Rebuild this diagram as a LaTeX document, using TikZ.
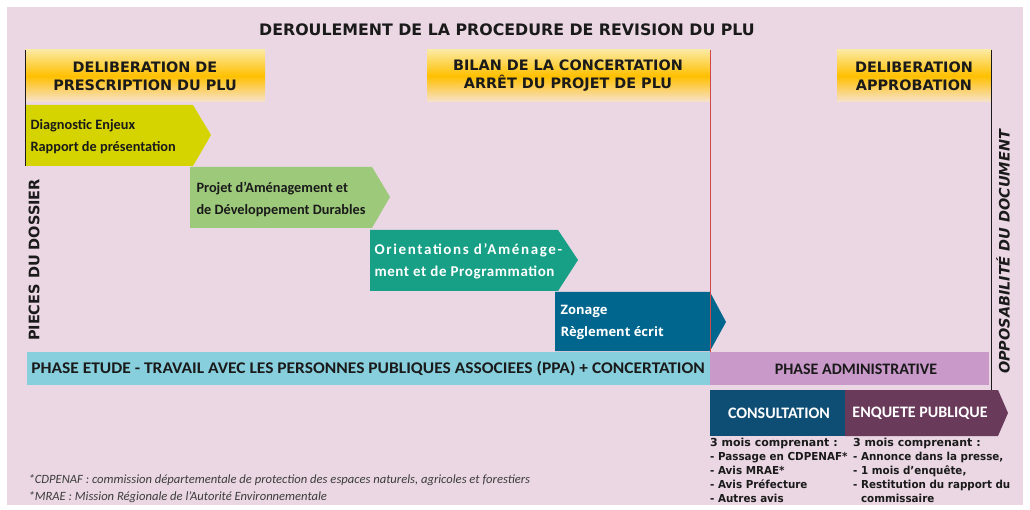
\documentclass[tikz,border=0pt]{standalone}
\usepackage{fontspec}
\setmainfont{Carlito}
\newfontfamily\calwide[FakeStretch=1.07]{Carlito}
\newfontfamily\calspace[LetterSpace=4]{Carlito}
\newfontfamily\calspacewide[LetterSpace=11]{Carlito}
\newfontfamily\verd{DejaVu Sans}
\newfontfamily\verdc[FakeStretch=0.94]{DejaVu Sans}
\newfontfamily\osans{Open Sans}
\usetikzlibrary{positioning}
\definecolor{fond}{HTML}{EAD7E3}
\definecolor{orplu}{HTML}{FFC000}
\definecolor{orhaut}{HTML}{FCE9A0}
\definecolor{orbas}{HTML}{F7E2CF}
\definecolor{jaunevert}{HTML}{D5D400}
\definecolor{vertpadd}{HTML}{9DC97B}
\definecolor{turquoise}{HTML}{17A086}
\definecolor{bleuzon}{HTML}{00668E}
\definecolor{bleuphase}{HTML}{88CFDE}
\definecolor{mauve}{HTML}{C999C9}
\definecolor{bleunuit}{HTML}{0E4D74}
\definecolor{prune}{HTML}{6A3A5A}
\definecolor{rougeligne}{HTML}{D04848}
\definecolor{texte}{HTML}{1A1A1A}

\begin{document}
\begin{tikzpicture}[x=1pt,y=-1pt,
	entete/.style={top color=orhaut, bottom color=orbas, middle color=orplu},
	titreentete/.style={font=\verd\bfseries\fontsize{14.4}{18}\selectfont, align=center, text=texte},
	piece/.style={font=\bfseries\fontsize{14.3}{22}\selectfont, align=left, anchor=west, text=texte},
	piecebis/.style={font=\osans\bfseries\fontsize{13}{22}\selectfont, align=left, anchor=west, text=white},
	phase/.style={font=\bfseries\fontsize{16}{18}\selectfont, text=texte},
	liste/.style={font=\verdc\bfseries\fontsize{11}{14}\selectfont, align=left, anchor=north west, text=texte, inner sep=0pt},
	vertical/.style={font=\verd\bfseries\fontsize{14.5}{16}\selectfont, rotate=90, text=texte}]
	\useasboundingbox (0,0) rectangle (1030,510);
	\fill[white] (0,0) rectangle (1030,510);
	\fill[fond] (7,7) rectangle (1023,505);
	% titre
	\node[font=\verd\bfseries\fontsize{15.8}{18}\selectfont, text=texte] (titre) at (507,30) {DEROULEMENT DE LA PROCEDURE DE REVISION DU PLU};
	% deliberations
	\shade[entete] (25,50) rectangle (265,102);
	\shade[entete] (427,50) rectangle (710,102);
	\shade[entete] (837,50) rectangle (991,102);
	\node[titreentete] (prescription) at (145,76) {DELIBERATION DE\\PRESCRIPTION DU PLU};
	\node[titreentete] (arret) at (568,76) {BILAN DE LA CONCERTATION\\ARRÊT DU PROJET DE PLU};
	\node[titreentete] (approbation) at (914,76) {DELIBERATION\\APPROBATION};
	% pieces du dossier
	\fill[jaunevert] (25,105) -- (193,105) -- (211,135) -- (193,166) -- (25,166) -- cycle;
	\fill[vertpadd] (190,167) -- (372,167) -- (390,197) -- (372,228) -- (190,228) -- cycle;
	\fill[turquoise] (370,230) -- (558,230) -- (578,260) -- (558,291) -- (370,291) -- cycle;
	\fill[bleuzon] (555,292) -- (710,292) -- (726,322) -- (710,351) -- (555,351) -- cycle;
	\node[piece] (diagnostic) at (27,137) {Diagnostic Enjeux\\Rapport de présentation};
	\node[piece] (padd) at (193,199) {Projet d’Aménagement et\\de Développement Durables};
	\node[piecebis, font=\calspace\bfseries\fontsize{15}{22}\selectfont] (oap) at (371,261) {{\calspacewide Orientations d’Aménage-}\\ment et de Programmation};
	\node[piecebis] (zonage) at (557,322) {Zonage\\Règlement écrit};
	% reperes verticaux
	\draw[texte, semithick] (25,50) -- (25,166);
	\draw[rougeligne, semithick] (710,50) -- (710,352);
	\draw[texte, semithick] (991,50) -- (991,390);
	\node[vertical] (dossier) at (34,260) {PIECES DU DOSSIER};
	\node[vertical, font=\verd\bfseries\itshape\fontsize{14.4}{16}\selectfont] (opposabilite) at (1003,252) {OPPOSABILITÉ DU DOCUMENT};
	% phases
	\fill[bleuphase] (27,352) rectangle (710,385);
	\fill[mauve] (710,352) rectangle (989,385);
	\node[phase, font=\calwide\bfseries\fontsize{16.3}{18}\selectfont] (etude) at (368,369) {PHASE ETUDE - TRAVAIL AVEC LES PERSONNES PUBLIQUES ASSOCIEES (PPA) + CONCERTATION};
	\node[phase] (admin) at (856,369) {PHASE ADMINISTRATIVE};
	\fill[bleunuit] (710,390) rectangle (845,436);
	\fill[prune] (845,390) -- (998,390) -- (1008,413) -- (998,436) -- (845,436) -- cycle;
	\node[phase, text=white] (consultation) at (779,413) {CONSULTATION};
	\node[phase, text=white] (enquete) at (920,413) {ENQUETE PUBLIQUE};
	\node[liste] (listeconsult) at (710,438) {{\verd 3 mois comprenant :}\\- Passage en CDPENAF*\\- Avis MRAE*\\- Avis Préfecture\\- Autres avis};
	\node[liste] (listeenquete) at (853,438) {{\verd 3 mois comprenant :}\\- Annonce dans la presse,\\- 1 mois d’enquête,\\- Restitution du rapport du\\\phantom{- }commissaire};
	% renvois
	\node[font=\itshape\fontsize{12.6}{17}\selectfont, align=left, anchor=west, text=texte!85] (renvois) at (25,489) {*CDPENAF : commission départementale de protection des espaces naturels, agricoles et forestiers\\*MRAE : Mission Régionale de l’Autorité Environnementale};
\end{tikzpicture}
\end{document}
